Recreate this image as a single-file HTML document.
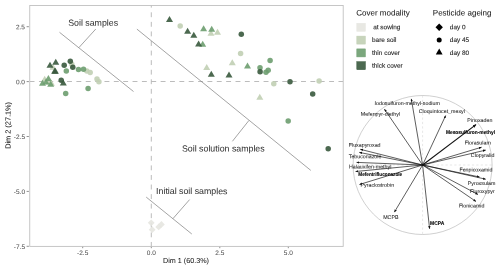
<!DOCTYPE html>
<html><head><meta charset="utf-8"><title>PCA biplot</title>
<style>
html,body{margin:0;padding:0;background:#fff}
svg{display:block;font-family:"Liberation Sans",sans-serif}
</style></head><body>
<svg width="500" height="270" viewBox="0 0 500 270">
<defs>
<marker id="ah" markerUnits="userSpaceOnUse" markerWidth="4" markerHeight="4" refX="2.7" refY="1.2" orient="auto"><path d="M0 0L2.8 1.2L0 2.4Z" fill="#111"/></marker>
<marker id="ah2" markerUnits="userSpaceOnUse" markerWidth="5" markerHeight="5" refX="3.2" refY="1.6" orient="auto"><path d="M0 0L3.6 1.6L0 3.2Z" fill="#111"/></marker>
<clipPath id="pc"><rect x="29.7" y="5.2" width="313.5" height="241.2"/></clipPath>
</defs>
<rect width="500" height="270" fill="#fff"/>
<!-- main panel -->
<g clip-path="url(#pc)">
<line x1="29.6" y1="81.5" x2="343.2" y2="81.5" stroke="#b4b4b4" stroke-width="0.9" stroke-dasharray="4.9 4.46"/>
<line x1="151.3" y1="2.73" x2="151.3" y2="246.2" stroke="#b4b4b4" stroke-width="0.9" stroke-dasharray="4.9 4.67"/>
</g>
<g fill-opacity="0.9">
<path d="M53 63.80L56.50 69.80H49.50Z" fill="#c1cfb4"/>
<path d="M50 61.80L53.50 67.80H46.50Z" fill="#39593d"/>
<path d="M55.75 58.70L59.25 64.70H52.25Z" fill="#39593d"/>
<path d="M54.6 67.70L58.10 73.70H51.10Z" fill="#39593d"/>
<path d="M55.4 67.70L58.90 73.70H51.90Z" fill="#39593d"/>
<circle cx="71.8" cy="64.3" r="2.75" fill="#c1cfb4"/>
<circle cx="64.2" cy="65.3" r="2.75" fill="#39593d"/>
<circle cx="70.3" cy="61.2" r="2.75" fill="#39593d"/>
<circle cx="72.8" cy="67.3" r="2.75" fill="#39593d"/>
<circle cx="86.8" cy="71" r="2.75" fill="#c1cfb4"/>
<circle cx="90.2" cy="72.4" r="2.75" fill="#c1cfb4"/>
<circle cx="66.3" cy="71" r="2.75" fill="#6d9d6f"/>
<circle cx="78.5" cy="69.5" r="2.75" fill="#6d9d6f"/>
<circle cx="83.5" cy="69.2" r="2.75" fill="#6d9d6f"/>
<circle cx="97" cy="78.9" r="2.75" fill="#c1cfb4"/>
<circle cx="98.9" cy="81.8" r="2.75" fill="#c1cfb4"/>
<circle cx="61.2" cy="80.3" r="2.75" fill="#39593d"/>
<path d="M63.3 79.60L66.80 85.60H59.80Z" fill="#39593d"/>
<path d="M44.7 75.70L48.20 81.70H41.20Z" fill="#c1cfb4"/>
<path d="M51.4 79.70L54.90 85.70H47.90Z" fill="#c1cfb4"/>
<path d="M48.8 78.60L52.30 84.60H45.30Z" fill="#c1cfb4"/>
<path d="M42.5 79.70L46.00 85.70H39.00Z" fill="#6d9d6f"/>
<path d="M46 78.60L49.50 84.60H42.50Z" fill="#6d9d6f"/>
<path d="M48.4 74.90L51.90 80.90H44.90Z" fill="#6d9d6f"/>
<path d="M50.7 80.70L54.20 86.70H47.20Z" fill="#6d9d6f"/>
<circle cx="88.1" cy="88.5" r="2.75" fill="#6d9d6f"/>
<circle cx="65.7" cy="93.6" r="2.75" fill="#6d9d6f"/>
<path d="M169.5 15.90L173.00 21.90H166.00Z" fill="#39593d"/>
<circle cx="180.2" cy="26.1" r="2.75" fill="#c1cfb4"/>
<path d="M187.6 27.80L191.10 33.80H184.10Z" fill="#39593d"/>
<path d="M193.8 31.80L197.30 37.80H190.30Z" fill="#39593d"/>
<path d="M203.6 25.20L207.10 31.20H200.10Z" fill="#6d9d6f"/>
<path d="M211 29.80L214.50 35.80H207.50Z" fill="#c1cfb4"/>
<path d="M211.7 25.80L215.20 31.80H208.20Z" fill="#6d9d6f"/>
<path d="M217.5 28.70L221.00 34.70H214.00Z" fill="#c1cfb4"/>
<path d="M202.7 40.70L206.20 46.70H199.20Z" fill="#6d9d6f"/>
<path d="M198.6 40.50L202.10 46.50H195.10Z" fill="#39593d"/>
<circle cx="241.3" cy="34.2" r="2.75" fill="#39593d"/>
<circle cx="240.6" cy="53.6" r="2.75" fill="#c1cfb4"/>
<path d="M206.7 64.00L210.20 70.00H203.20Z" fill="#c1cfb4"/>
<path d="M211.3 70.80L214.80 76.80H207.80Z" fill="#39593d"/>
<path d="M229 71.50L232.50 77.50H225.50Z" fill="#39593d"/>
<path d="M232.3 59.30L235.80 65.30H228.80Z" fill="#c1cfb4"/>
<path d="M247.5 62.50L251.00 68.50H244.00Z" fill="#6d9d6f"/>
<circle cx="270.1" cy="60.6" r="2.75" fill="#6d9d6f"/>
<circle cx="260" cy="67.8" r="2.75" fill="#6d9d6f"/>
<circle cx="260.1" cy="71.8" r="2.75" fill="#39593d"/>
<circle cx="266" cy="72.2" r="2.75" fill="#6d9d6f"/>
<circle cx="268.2" cy="70.3" r="2.75" fill="#6d9d6f"/>
<circle cx="273.8" cy="83.8" r="2.75" fill="#c1cfb4"/>
<circle cx="290" cy="81.8" r="2.75" fill="#39593d"/>
<circle cx="319.1" cy="80.9" r="2.75" fill="#c1cfb4"/>
<circle cx="312.7" cy="94" r="2.75" fill="#39593d"/>
<path d="M259.8 93.80L263.30 99.80H256.30Z" fill="#c1cfb4"/>
<circle cx="288.2" cy="121.1" r="2.75" fill="#6d9d6f"/>
<circle cx="328.2" cy="148.7" r="2.75" fill="#39593d"/>
<path d="M151.2 219.40L154.60 222.8L151.2 226.20L147.80 222.8Z" fill="#e5e5e0"/>
<path d="M152.2 226.30L155.60 229.7L152.2 233.10L148.80 229.7Z" fill="#e5e5e0"/>
<path d="M158.7 223.50L162.10 226.9L158.7 230.30L155.30 226.9Z" fill="#e5e5e0"/>
<path d="M161.4 221.00L164.80 224.4L161.4 227.80L158.00 224.4Z" fill="#e5e5e0"/>
</g>
<g stroke="#7d7d7d" stroke-width="0.7" fill="none">
<line x1="59.5" y1="32.3" x2="133.5" y2="91.5"/>
<line x1="95.8" y1="29" x2="78.9" y2="47.6"/>
<line x1="136.9" y1="29.1" x2="310.8" y2="170.4"/>
<line x1="248.9" y1="120.5" x2="232.4" y2="141.3"/>
<line x1="146.2" y1="197.1" x2="191.8" y2="234"/>
<line x1="172.9" y1="218.7" x2="189.6" y2="199.6"/>
</g>
<g font-size="8.8" fill="#333" stroke="#333" stroke-width="0.03">
<text transform="rotate(0.03 68.2 25.7)" x="68.2" y="25.7">Soil samples</text>
<text transform="rotate(0.03 182 151.4)" x="182" y="151.4">Soil solution samples</text>
<text transform="rotate(0.03 156.1 194.1)" x="156.1" y="194.1">Initial soil samples</text>
</g>
<rect x="29.75" y="5.5" width="313.45" height="240.9" fill="none" stroke="#c0c0c0" stroke-width="0.9"/>
<g stroke="#444" stroke-width="0.6">
<line x1="26.6" y1="26.7" x2="28.9" y2="26.7"/><line x1="26.6" y1="81.6" x2="28.9" y2="81.6"/>
<line x1="26.6" y1="136.5" x2="28.9" y2="136.5"/><line x1="26.6" y1="191.4" x2="28.9" y2="191.4"/>
<line x1="26.6" y1="246.3" x2="28.9" y2="246.3"/>
<line x1="82.7" y1="246.9" x2="82.7" y2="248.2"/><line x1="151.3" y1="246.9" x2="151.3" y2="248.2"/>
<line x1="219.8" y1="246.9" x2="219.8" y2="248.2"/><line x1="288.3" y1="246.9" x2="288.3" y2="248.2"/>
</g>
<g font-size="6.5" fill="#4d4d4d" stroke="#4d4d4d" stroke-width="0.03" text-anchor="end">
<text transform="rotate(0.03 25 29.3)" x="25" y="29.3">2.5</text><text transform="rotate(0.03 25 84.2)" x="25" y="84.2">0.0</text><text transform="rotate(0.03 25 139.1)" x="25" y="139.1">-2.5</text>
<text transform="rotate(0.03 25 194)" x="25" y="194">-5.0</text><text transform="rotate(0.03 25 248.9)" x="25" y="248.9">-7.5</text>
</g>
<g font-size="6.5" fill="#4d4d4d" stroke="#4d4d4d" stroke-width="0.03" text-anchor="middle">
<text transform="rotate(0.03 82.7 255.1)" x="82.7" y="255.1">-2.5</text><text transform="rotate(0.03 151.3 255.1)" x="151.3" y="255.1">0.0</text><text transform="rotate(0.03 219.8 255.1)" x="219.8" y="255.1">2.5</text><text transform="rotate(0.03 288.3 255.1)" x="288.3" y="255.1">5.0</text>
</g>
<g font-size="7.2" fill="#111" stroke="#111" stroke-width="0.03" text-anchor="middle">
<text transform="rotate(0.03 186 263.1)" x="186" y="263.1">Dim 1 (60.3%)</text>
<text font-size="7.35" transform="translate(10.55 125.4) rotate(-89.95)">Dim 2 (27.1%)</text>
</g>
<!-- legends -->
<g font-size="8" fill="#111" stroke="#111" stroke-width="0.03">
<text transform="rotate(0.03 356.3 15.6)" x="356.3" y="15.6">Cover modality</text><text transform="rotate(0.03 432.8 15.6)" x="432.8" y="15.6">Pesticide ageing</text>
</g>
<rect x="356.8" y="23.3" width="8.6" height="8" fill="#e5e5e0" fill-opacity="0.9" stroke="#e5e5e0" stroke-width="0.5"/>
<rect x="356.8" y="36.1" width="8.6" height="8" fill="#c1cfb4" fill-opacity="0.9" stroke="#c1cfb4" stroke-width="0.5"/>
<rect x="356.8" y="48.9" width="8.6" height="8" fill="#6d9d6f" fill-opacity="0.9" stroke="#6d9d6f" stroke-width="0.5"/>
<rect x="356.8" y="61.7" width="8.6" height="8" fill="#39593d" fill-opacity="0.9" stroke="#39593d" stroke-width="0.5"/>
<g font-size="6.45" fill="#222" stroke="#222" stroke-width="0.1">
<text transform="rotate(0.03 373.2 29.3)" x="373.2" y="29.3">at sowing</text><text transform="rotate(0.03 372 42.1)" x="372" y="42.1">bare soil</text><text transform="rotate(0.03 372 54.9)" x="372" y="54.9">thin cover</text><text transform="rotate(0.03 372 67.7)" x="372" y="67.7">thick cover</text>
<text transform="rotate(0.03 449.8 29.3)" x="449.8" y="29.3">day 0</text><text transform="rotate(0.03 449.8 42.1)" x="449.8" y="42.1">day 45</text><text transform="rotate(0.03 449.8 54.9)" x="449.8" y="54.9">day 80</text>
</g>
<path d="M439.2 23.4L442.9 27.2L439.2 31L435.5 27.2Z" fill="#000"/>
<circle cx="439.2" cy="40" r="2.5" fill="#000"/>
<path d="M439.2 48.6L442.6 54.6H435.8Z" fill="#000"/>
<!-- correlation circle -->
<line x1="422.6" y1="95.5" x2="422.6" y2="234.5" stroke="#dcdcdc" stroke-width="0.7" stroke-dasharray="2.2 2.2"/>
<line x1="353.1" y1="165.0" x2="492.1" y2="165.0" stroke="#dcdcdc" stroke-width="0.7" stroke-dasharray="2.2 2.2"/>
<circle cx="422.6" cy="165.0" r="69.5" fill="none" stroke="#b0b0b0" stroke-width="0.6"/>
<g stroke="#111" stroke-width="0.68">
<line x1="422.6" y1="165.0" x2="411.3" y2="98.9" marker-end="url(#ah)"/>
<line x1="422.6" y1="165.0" x2="384.4" y2="109.1" marker-end="url(#ah)"/>
<line x1="422.6" y1="165.0" x2="445.7" y2="115.5" marker-end="url(#ah)"/>
<line x1="422.6" y1="165.0" x2="476.0" y2="124.6" stroke-width="1.1" marker-end="url(#ah2)"/>
<line x1="422.6" y1="165.0" x2="481.6" y2="147.2" marker-end="url(#ah)"/>
<line x1="422.6" y1="165.0" x2="485.7" y2="150.1" marker-end="url(#ah)"/>
<line x1="422.6" y1="165.0" x2="479.5" y2="177.0" marker-end="url(#ah)"/>
<line x1="422.6" y1="165.0" x2="485.7" y2="179.2" marker-end="url(#ah)"/>
<line x1="422.6" y1="165.0" x2="478" y2="194.5" marker-end="url(#ah)"/>
<line x1="422.6" y1="165.0" x2="476" y2="201.5" marker-end="url(#ah)"/>
<line x1="422.6" y1="165.0" x2="429.6" y2="228.8" marker-end="url(#ah)"/>
<line x1="422.6" y1="165.0" x2="394.4" y2="212.1" marker-end="url(#ah)"/>
<line x1="422.6" y1="165.0" x2="359.5" y2="184.5" marker-end="url(#ah)"/>
<line x1="422.6" y1="165.0" x2="355.6" y2="171.5" marker-end="url(#ah)"/>
<line x1="422.6" y1="165.0" x2="356.6" y2="162.4" marker-end="url(#ah)"/>
<line x1="422.6" y1="165.0" x2="359.3" y2="152.4" marker-end="url(#ah)"/>
<line x1="422.6" y1="165.0" x2="360.3" y2="149.3" marker-end="url(#ah)"/>
</g>
<g font-size="5.3" fill="#222" stroke="#222" stroke-width="0.06" text-anchor="middle">
<text transform="rotate(0.03 407.2 105.1)" x="407.2" y="105.1">Iodosulfuron-methyl-sodium</text>
<text transform="rotate(0.03 380.45 115.7)" x="380.45" y="115.7">Mefenpyr-diethyl</text>
<text transform="rotate(0.03 441.85 113.0)" x="441.85" y="113.0">Cloquintocet_mexyl</text>
<text transform="rotate(0.03 479.85 122.0)" x="479.85" y="122.0">Pinoxaden</text>
<text transform="rotate(0.03 470.45 134.1)" x="470.45" y="134.1" font-weight="bold" fill="#000" stroke="#000" stroke-width="0.1" textLength="49.1" lengthAdjust="spacingAndGlyphs">Mesosulfuron-methyl</text>
<text transform="rotate(0.03 477.75 144.6)" x="477.75" y="144.6">Florasulam</text>
<text transform="rotate(0.03 482.6 157.0)" x="482.6" y="157.0">Clopyralid</text>
<text transform="rotate(0.03 475.9 171.5)" x="475.9" y="171.5">Fenpicoxamid</text>
<text transform="rotate(0.03 481.55 185.0)" x="481.55" y="185.0">Pyroxsulam</text>
<text transform="rotate(0.03 482.4 193.1)" x="482.4" y="193.1">Fluroxypyr</text>
<text transform="rotate(0.03 471.7 207.6)" x="471.7" y="207.6">Flonicamid</text>
<text transform="rotate(0.03 437.15 224.7)" x="437.15" y="224.7" font-weight="bold" fill="#000" stroke="#000" stroke-width="0.1" textLength="14.1" lengthAdjust="spacingAndGlyphs">MCPA</text>
<text transform="rotate(0.03 390.85 219.1)" x="390.85" y="219.1">MCPB</text>
<text transform="rotate(0.03 377.3 186.8)" x="377.3" y="186.8">Pyraclostrobin</text>
<text transform="rotate(0.03 380.25 176.0)" x="380.25" y="176.0" font-weight="bold" fill="#000" stroke="#000" stroke-width="0.1" textLength="43.9" lengthAdjust="spacingAndGlyphs">Mefentrifluconazole</text>
<text transform="rotate(0.03 370.15 168.4)" x="370.15" y="168.4">Halauxifen-methyl</text>
<text transform="rotate(0.03 365.1 158.3)" x="365.1" y="158.3">Tebuconazole</text>
<text transform="rotate(0.03 364.65 146.8)" x="364.65" y="146.8">Fluxapyroxad</text>
</g>
</svg>
</body></html>
